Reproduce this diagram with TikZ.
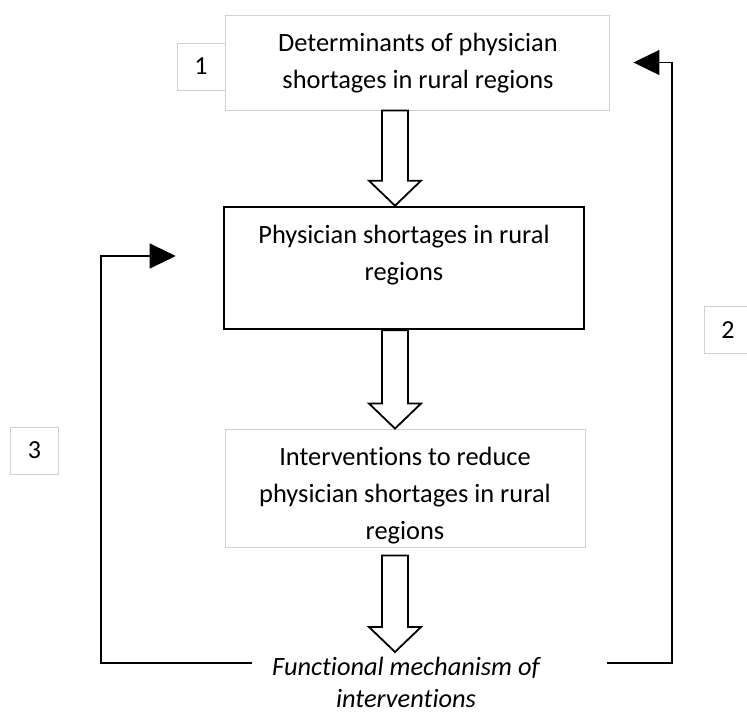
\documentclass[tikz,border=0pt]{standalone}
\usepackage{fontspec}
\setmainfont{Carlito}[RawFeature={-liga}]
\usetikzlibrary{arrows.meta,calc}
\definecolor{boxgray}{gray}{0.82}

% hollow block arrow from #1 (top of shaft) down to #2 (tip)
\newcommand\hollowarrow[2]{%
  \draw[fatarrow] let \p1=(#1), \p2=(#2) in
    (\x1-13pt,\y1) -- (\x1-13pt,\y2+25pt) -- (\x1-26pt,\y2+25pt) --
    (\x2,\y2) -- (\x1+26pt,\y2+25pt) -- (\x1+13pt,\y2+25pt) --
    (\x1+13pt,\y1) -- cycle;}

\begin{document}
\begin{tikzpicture}[x=1pt,y=-1pt,
  lightbox/.style={draw=boxgray, line width=0.9pt, fill=white, inner sep=0pt},
  heavybox/.style={draw=black, line width=2.6pt, fill=white, inner sep=0pt},
  numbox/.style={draw=boxgray, line width=0.9pt, fill=white, inner sep=0pt,
    minimum width=48pt, minimum height=47pt, font=\fontsize{26}{36}\selectfont},
  txt/.style={font=\fontsize{26.4}{36}\selectfont, inner sep=0pt, anchor=base},
  loopline/.style={draw=black, line width=1.2pt, -{Triangle[length=26pt,width=25pt]}},
  fatarrow/.style={draw=black, line width=1.8pt, fill=white, line join=miter}]

\useasboundingbox (0,0) rectangle (747,713);

% number tags
\node[numbox] (n1) at (201,66.5) {1};
\node[numbox] (n2) at (728,330) {2};
\node[numbox] (n3) at (34.5,450.5) {3};

% main boxes
\node[lightbox, minimum width=384pt, minimum height=95pt] (det) at (417,62.5) {};
\node[heavybox, minimum width=360pt, minimum height=122pt] (mid) at (404,268) {};
\node[lightbox, minimum width=360pt, minimum height=118pt] (ivn) at (405,488) {};

% box texts
\node[txt] (det1) at (418,51) {Determinants of physician};
\node[txt] (det2) at (418,88) {shortages in rural regions};
\node[txt] (mid1) at (404,243) {Physician shortages in rural};
\node[txt] (mid2) at (404,280) {regions};
\begin{scope}
  \clip (ivn.north west) rectangle (ivn.south east);
  \node[txt] (ivn1) at (405,465) {Interventions to reduce};
  \node[txt] (ivn2) at (405,502) {physician shortages in rural};
  \node[txt] (ivn3) at (405,539) {regions};
\end{scope}
\node[txt, font=\fontsize{26.4}{36}\selectfont\itshape] (fun1) at (406,675) {Functional mechanism of};
\node[txt, font=\fontsize{26.4}{36}\selectfont\itshape] (fun2) at (406,707) {interventions};

% block arrows down the column
\coordinate (ax) at (395,0);
\coordinate (a3s) at ($(ivn.south -| ax)+(0,8)$);
\coordinate (a3e) at ($(fun1.base -| ax)+(0,-23)$);
\hollowarrow{det.south -| ax}{mid.north -| ax}
\hollowarrow{mid.south -| ax}{ivn.north -| ax}
\hollowarrow{a3s}{a3e}

% feedback loops
\coordinate (lx) at (101,0);
\coordinate (rx) at (672,0);
\coordinate (lo) at ($(fun1.base west)+(-20,-12)$);
\coordinate (ro) at ($(fun1.base east)+(67,-12)$);
\coordinate (t3) at ($(mid.west)+(-47,-12)$);
\coordinate (t2) at ($(det.east)+(24,0)$);
\draw[loopline] (lo) -- (lo -| lx) |- (t3);
\draw[loopline] (ro) -- (ro -| rx) |- (t2);
\end{tikzpicture}
\end{document}
